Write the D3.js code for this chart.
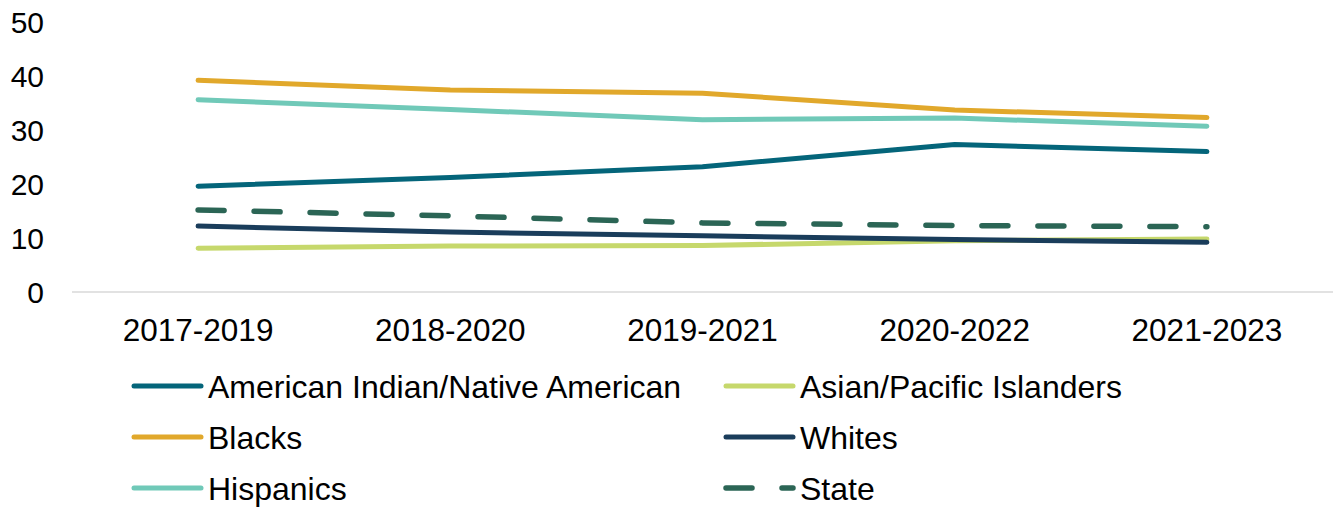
<!doctype html>
<html>
<head>
<meta charset="UTF-8">
<title>Rates by race/ethnicity</title>
<script src="https://d3js.org/d3.v7.min.js"></script>
<style>
  body { margin: 0; background: #fff; }
  text { font-family: "Liberation Sans", Arial, sans-serif; fill: #000; }
</style>
</head>
<body>
<svg id="chart" width="1341" height="508"></svg>
<script>
var years = ["2017-2019", "2018-2020", "2019-2021", "2020-2022", "2021-2023"];
var yTicks = [0, 10, 20, 30, 40, 50];

var aian      = [19.6, 21.2, 23.2, 27.3, 26.0];
var asian     = [8.1, 8.5, 8.6, 9.5, 9.8];
var blacks    = [39.2, 37.4, 36.8, 33.7, 32.3];
var whites    = [12.2, 11.1, 10.4, 9.7, 9.2];
var hispanics = [35.6, 33.8, 31.9, 32.2, 30.7];
var state     = [15.2, 14.1, 12.8, 12.3, 12.1];

var seriesNames = ["American Indian/Native American", "Asian/Pacific Islanders", "Blacks", "Whites", "Hispanics", "State"];
var seriesValues = [aian, asian, blacks, whites, hispanics, state];
var seriesColors = ["#04657a", "#c6d86c", "#e1a82b", "#1a3d5b", "#70c9b8", "#2b6555"];

var series = seriesNames.map(function (n, i) {
    return { name: n, values: seriesValues[i], color: seriesColors[i], dashed: n === "State" };
});

var svg = d3.select("#chart");

var x = d3.scaleBand().domain(years).range([72, 1333]).padding(0);
var y = d3.scaleLinear().domain([0, 50]).range([292, 22]);

// baseline
svg.append("line")
    .attr("x1", 72).attr("x2", 1333)
    .attr("y1", y(0)).attr("y2", y(0))
    .attr("stroke", "#d9d9d9")
    .attr("stroke-width", 1.5);

// y labels
svg.selectAll(".ylab")
    .data(yTicks)
    .enter().append("text")
    .attr("class", "ylab")
    .attr("x", 44)
    .attr("y", function (d) { return y(d); })
    .attr("dy", "0.36em")
    .attr("text-anchor", "end")
    .style("font-size", "30px")
    .text(function (d) { return d; });

// x labels
svg.selectAll(".xlab")
    .data(years)
    .enter().append("text")
    .attr("class", "xlab")
    .attr("x", function (d) { return x(d) + x.bandwidth() / 2; })
    .attr("y", 341)
    .attr("text-anchor", "middle")
    .style("font-size", "31.5px")
    .text(function (d) { return d; });

var line = d3.line()
    .x(function (d, i) { return x(years[i]) + x.bandwidth() / 2; })
    .y(function (d) { return y(d); });

svg.selectAll(".series")
    .data(series)
    .enter().append("path")
    .attr("class", "series")
    .attr("d", function (d) { return line(d.values); })
    .attr("fill", "none")
    .attr("stroke", function (d) { return d.color; })
    .attr("stroke-width", function (d) { return d.dashed ? 5.5 : 5; })
    .attr("stroke-linecap", "round")
    .attr("stroke-linejoin", "round")
    .attr("stroke-dasharray", function (d) { return d.dashed ? "26,30" : null; });

// legend
var legend = svg.selectAll(".legend")
    .data(series)
    .enter().append("g")
    .attr("class", "legend")
    .attr("transform", function (d, i) {
        var col = i % 2, row = Math.floor(i / 2);
        return "translate(" + (col === 0 ? 134 : 726) + "," + (386 + row * 51) + ")";
    });

legend.append("line")
    .attr("x1", 0).attr("x2", 67)
    .attr("y1", 0).attr("y2", 0)
    .attr("stroke", function (d) { return d.color; })
    .attr("stroke-width", function (d) { return d.dashed ? 5.5 : 5; })
    .attr("stroke-linecap", "round")
    .attr("stroke-dasharray", function (d) { return d.dashed ? "26,30" : null; });

legend.append("text")
    .attr("x", 74)
    .attr("y", 0)
    .attr("dy", "0.36em")
    .style("font-size", "32px")
    .text(function (d) { return d.name; });
</script>
</body>
</html>
